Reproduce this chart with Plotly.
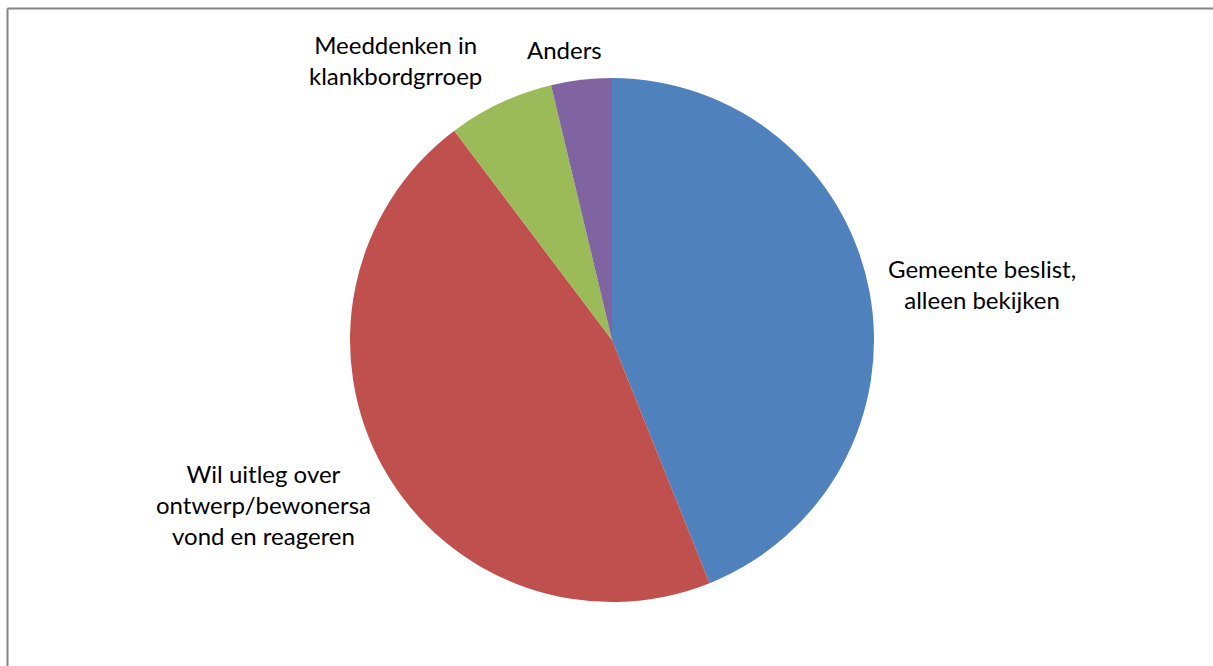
import plotly.graph_objects as go

labels = [
    "Gemeente beslist,<br>alleen bekijken",
    "Wil uitleg over<br>ontwerp/bewonersa<br>vond en reageren",
    "Meeddenken in<br>klankbordgrroep",
    "Anders",
]
values = [47, 49, 7, 4]
colors = ["#4F81BD", "#C0504D", "#9BBB59", "#8064A2"]

W, H = 1213, 666
cx, cy, r = 612, 340, 262

fig = go.Figure(
    go.Pie(
        labels=labels,
        values=values,
        sort=False,
        direction="clockwise",
        rotation=0,
        textinfo="none",
        hoverinfo="label+value+percent",
        marker=dict(colors=colors, line=dict(width=0)),
        showlegend=False,
        domain=dict(
            x=[(cx - r) / W, (cx + r) / W],
            y=[(H - cy - r) / H, (H - cy + r) / H],
        ),
    )
)

# label positions (pixel centres)
label_pos = [(982, 284), (263, 504), (395, 60), (564, 50)]
font = dict(family="Lato, Open Sans, sans-serif", size=24, color="#000000")
for lab, (px, py) in zip(labels, label_pos):
    fig.add_annotation(
        x=px / W, y=1 - py / H, xref="paper", yref="paper",
        text=lab, showarrow=False, font=font, align="center",
        xanchor="center", yanchor="middle",
    )

# chart area border (only top and left edges visible in the crop)
border = dict(color="#868686", width=2)
fig.add_shape(type="line", xref="paper", yref="paper",
              x0=7.5 / W, x1=1.0, y0=1 - 8.5 / H, y1=1 - 8.5 / H, line=border)
fig.add_shape(type="line", xref="paper", yref="paper",
              x0=7.5 / W, x1=7.5 / W, y0=0.0, y1=1 - 8.5 / H, line=border)

fig.update_layout(
    width=W, height=H,
    margin=dict(l=0, r=0, t=0, b=0),
    paper_bgcolor="white", plot_bgcolor="white",
)

fig.write_html(
    "out.html",
    config={"displayModeBar": False},
    post_script="document.body.style.margin='0';document.body.style.overflow='hidden';",
)
